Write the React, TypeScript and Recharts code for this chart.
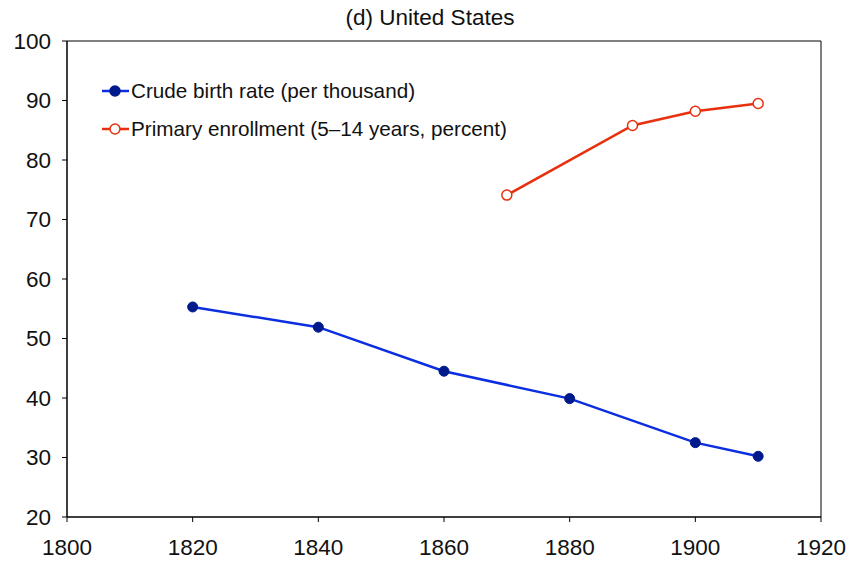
import React from 'react';
import {
  LineChart,
  Line,
  XAxis,
  YAxis,
  ReferenceArea,
} from 'recharts';

const birthYears = [1820, 1840, 1860, 1880, 1900, 1910];
const birthRate = [55.3, 51.9, 44.5, 39.9, 32.5, 30.2];

const enrollYears = [1870, 1890, 1900, 1910];
const enrollment = [74.1, 85.8, 88.2, 89.5];

const xTicks = [1800, 1820, 1840, 1860, 1880, 1900, 1920];
const yTicks = [20, 30, 40, 50, 60, 70, 80, 90, 100];

const birthLabel = 'Crude birth rate (per thousand)';
const enrollLabel = 'Primary enrollment (5–14 years, percent)';

const FONT = '"Liberation Sans", Arial, Helvetica, sans-serif';
const BLUE = '#0b2ee0';
const NAVY = '#001a8c';
const RED = '#e8300e';

const birthData = birthYears.map((year, i) => ({ year, value: birthRate[i] }));
const enrollData = enrollYears.map((year, i) => ({ year, value: enrollment[i] }));

// Legend drawn as line + marker + label, like the original figure
const ChartLegend = () => {
  const rows = [
    { label: birthLabel, color: BLUE, fill: NAVY, stroke: NAVY },
    { label: enrollLabel, color: RED, fill: '#ffffff', stroke: RED },
  ];
  return (
    <div
      style={{
        position: 'absolute',
        top: 72,
        left: 102,
        fontFamily: FONT,
        fontSize: 20.7,
        color: '#111',
      }}
    >
      {rows.map((r) => (
        <div key={r.label} style={{ display: 'flex', alignItems: 'center', height: 38 }}>
          <svg width={28} height={14} style={{ marginRight: 1 }}>
            <line x1={0} y1={7} x2={27} y2={7} stroke={r.color} strokeWidth={2.5} />
            <circle cx={13} cy={7} r={5} fill={r.fill} stroke={r.stroke} strokeWidth={1.5} />
          </svg>
          <span>{r.label}</span>
        </div>
      ))}
    </div>
  );
};

export default function App() {
  return (
    <div style={{ position: 'relative', width: 852, height: 565, background: '#fff' }}>
      <style>{`body { margin: 0; }`}</style>
      <div
        style={{
          position: 'absolute',
          top: 5,
          left: 0,
          width: 852,
          paddingLeft: 4,
          textAlign: 'center',
          fontFamily: FONT,
          fontSize: 22.5,
          color: '#111',
        }}
      >
        (d) United States
      </div>
      <LineChart
        width={852}
        height={565}
        margin={{ top: 41, right: 31, left: 0, bottom: 0 }}
        style={{ fontFamily: FONT }}
      >
        <XAxis
          dataKey="year"
          type="number"
          domain={[1800, 1920]}
          ticks={xTicks}
          allowDuplicatedCategory={false}
          height={48}
          tickSize={5}
          tickMargin={17}
          stroke="#000"
          tick={{ fill: '#111', fontSize: 22.5 }}
        />
        <YAxis
          type="number"
          domain={[20, 100]}
          ticks={yTicks}
          width={67}
          tickSize={5}
          tickMargin={11}
          stroke="#000"
          tick={{ fill: '#111', fontSize: 22.5 }}
        />
        <ReferenceArea
          x1={1800}
          x2={1920}
          y1={20}
          y2={100}
          fill="none"
          stroke="#000"
          strokeWidth={1}
        />
        <Line
          data={birthData}
          dataKey="value"
          name={birthLabel}
          stroke={BLUE}
          strokeWidth={2.5}
          dot={{ r: 5, fill: NAVY, stroke: NAVY, strokeWidth: 1 }}
          isAnimationActive={false}
        />
        <Line
          data={enrollData}
          dataKey="value"
          name={enrollLabel}
          stroke={RED}
          strokeWidth={2.5}
          dot={{ r: 5, fill: '#ffffff', stroke: RED, strokeWidth: 1.5 }}
          isAnimationActive={false}
        />
      </LineChart>
      <ChartLegend />
    </div>
  );
}
